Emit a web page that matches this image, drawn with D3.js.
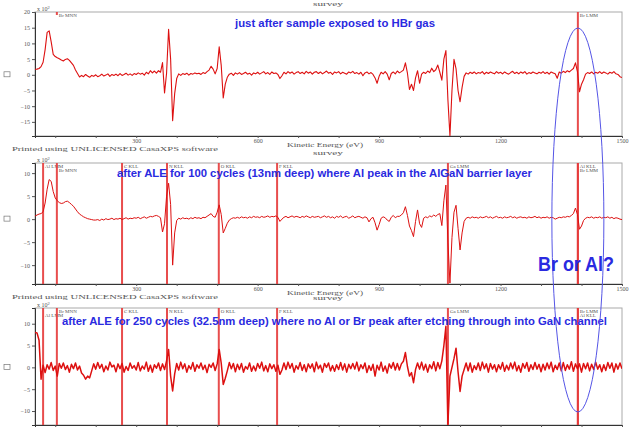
<!DOCTYPE html>
<html>
<head>
<meta charset="utf-8">
<script src="https://cdn.jsdelivr.net/npm/d3@7"></script>
<style>
  body { margin: 0; background: #fff; }
  svg { display: block; }
</style>
</head>
<body>
<div id="chart"></div>
<script>
const energyStart = 50;
const energyStep = 5;

const spec1 = [
  1.75, 1.8, 2.0, 2.6, 4.0, 8.0, 13.5, 14.0, 10.5, 6.5,
  5.8, 5.4, 5.1, 4.7, 4.4, 4.9, 5.1, 4.6, 3.8, 3.0,
  1.5, 0.4, -0.7, -0.2, -0.6, 0.1, -0.4, -0.8, -0.2, -0.5,
  0.0, -0.6, -0.3, 0.2, -0.4, -0.1, 0.3, -0.5, 0.1, -0.2,
  0.2, -0.3, 0.4, -0.2, 0.1, 0.5, -0.1, 0.3, -0.2, 0.4,
  0.1, 0.6, 0.2, 0.5, -0.1, 0.8, 0.3, 1.3, 0.6, 1.2,
  0.5, 1.3, 0.8, 3.9, -5.8, 0.5, 14.5, 5.0, -14.6, -6.0,
  -1.2, 0.3, -0.2, 0.4, 0.1, 0.5, -0.1, 0.4, 0.2, 0.6,
  0.3, 0.5, 0.1, 0.7, 0.4, 1.0, 1.5, 2.7, 1.8, 0.3,
  2.0, 8.9, 3.0, -7.4, -3.0, -0.8, 0.2, 0.5, -0.2, 0.6,
  0.2, 0.7, 0.1, 0.4, 0.8, 0.2, 0.5, -0.1, 0.6, 0.3,
  0.8, 0.2, 0.6, 1.0, 0.3, 0.7, 0.1, 0.9, 0.4, 0.6,
  0.1, -1.2, -0.3, 0.8, 0.3, 1.0, 0.5, 0.9, 0.2, 0.7,
  1.0, 0.4, 0.8, 0.3, 1.1, 0.5, 0.9, 0.2, 0.8, 1.0,
  0.4, 0.9, 0.3, 0.7, 1.2, 0.5, 0.8, 0.1, 0.9, 0.6,
  1.0, 0.3, 0.8, 0.5, 0.2, 0.9, 0.6, 1.1, 0.4, 0.7,
  0.2, 0.8, -0.3, 0.6, 0.9, 0.3, 0.7, 0.1, -1.0, -2.7,
  -0.5, 0.8, 0.3, 1.0, 0.2, -1.6, 0.4, 0.9, 0.3, 1.2,
  0.6, 1.0, 1.5, 3.8, 0.5, -4.7, -3.0, -5.0, -1.0, 1.3,
  -2.7, 0.2, 0.8, 0.4, 1.2, 0.7, 2.1, 1.0, 1.6, 3.1,
  0.8, -1.7, 5.0, 7.7, -8.0, -19.5, -5.0, 4.9, 2.0, -5.0,
  -8.6, -4.0, -0.5, 0.6, 0.2, 0.8, 0.4, 0.9, 0.3, 0.7,
  0.5, 1.0, 0.2, 0.8, 0.4, 0.9, 0.6, 0.3, 1.0, 0.5,
  0.8, 0.3, 0.9, 0.5, 0.2, 0.7, 1.1, 0.4, 0.8, 0.3,
  0.9, 0.5, 1.0, 0.2, 0.7, 0.4, 0.9, 0.6, 0.3, 0.8,
  0.5, 1.0, 0.4, 0.8, 0.2, 0.9, 0.6, 0.3, -1.1, 0.9,
  0.5, 1.1, 0.7, 1.3, 0.9, 1.5, 2.0, 3.8, 1.0, -5.4,
  -3.0, -1.6, 0.2, 0.7, 0.4, 0.9, 0.3, 0.8, 0.5, 1.0,
  0.4, 0.9, 0.6, 0.2, 0.8, 0.5, 1.0, 0.3, 0.1, -0.6,
  -0.9
];

const spec2 = [
  0.65, 0.9, 1.1, 1.2, 1.6, 3.5, 6.5, 8.6, 8.2, 6.0,
  4.6, 4.0, 3.6, 3.4, 3.5, 3.8, 3.9, 3.6, 3.2, 2.8,
  2.2, 1.6, 1.1, 0.8, 0.5, 0.3, 0.1, 0.0, -0.1, -0.2,
  -0.2, -0.1, -0.3, 0.0, -0.2, 0.1, -0.1, 0.0, 0.2, -0.1,
  0.1, 0.0, 0.2, -0.1, 0.1, 0.3, 0.0, 0.2, 0.1, 0.3,
  0.2, 0.4, 0.1, 0.3, 0.5, 0.2, 0.4, 0.6, 0.5, 0.7,
  0.8, 0.6, 0.3, -2.8, -1.0, 5.0, 7.8, 3.2, -10.0, -3.0,
  -0.3, 0.2, 0.0, 0.3, 0.1, 0.2, 0.0, 0.3, 0.1, 0.4,
  0.2, 0.3, 0.1, 0.4, 0.3, 0.6, 0.9, 1.2, 0.6, 0.4,
  1.5, 3.1, 1.0, -3.0, -2.0, -0.9, -0.2, 0.1, 0.3, 0.2,
  0.4, 0.2, 0.5, 0.3, 0.4, 0.2, 0.5, 0.3, 0.6, 0.4,
  0.5, 0.3, 0.6, 0.4, 0.5, 0.7, 0.4, 0.6, 0.5, 0.7,
  0.4, -0.5, 0.0, 0.4, 0.6, 0.3, 0.5, 0.7, 0.4, 0.6,
  0.5, 0.3, 0.6, 0.4, 0.7, 0.5, 0.3, 0.6, 0.4, 0.5,
  0.6, 0.3, 0.5, 0.7, 0.4, 0.6, 0.3, 0.5, 0.2, 0.6,
  0.4, 0.7, 0.3, 0.5, 0.6, 0.2, 0.4, 0.7, 0.3, 0.5,
  0.6, 0.4, 0.2, 0.5, 0.3, -0.6, 0.1, 0.4, -0.8, -2.4,
  -1.2, 0.2, 0.5, 0.3, -0.2, -0.5, 0.4, 0.8, 0.3, 0.6,
  0.6, 0.9, 1.4, 2.7, 0.8, -1.5, -2.5, -3.8, -0.5, 2.0,
  -1.0, -1.8, 0.2, 0.5, 0.3, 0.7, 0.5, 0.9, 0.6, 1.0,
  1.2, -1.4, 4.0, 7.4, -5.0, -13.9, -4.0, 1.5, 3.0, -2.0,
  -6.7, -3.0, -0.5, 0.2, 0.4, 0.2, 0.5, 0.3, 0.4, 0.2,
  0.5, 0.3, 0.4, 0.6, 0.3, 0.5, 0.2, 0.4, 0.6, 0.3,
  0.4, 0.2, 0.5, 0.3, 0.4, 0.6, 0.3, 0.5, 0.2, 0.4,
  0.5, 0.3, 0.4, 0.2, 0.5, 0.3, 0.4, 0.6, 0.3, 0.5,
  0.2, 0.4, 0.3, 0.5, 0.2, 0.4, 0.3, 0.0, 0.2, 0.4,
  0.3, 0.5, 0.4, 0.6, 0.5, 0.8, 1.2, 2.4, 1.0, -2.2,
  -1.5, -0.3, 0.2, 0.4, 0.3, 0.5, 0.2, 0.4, 0.3, 0.5,
  0.2, 0.4, 0.3, 0.5, 0.2, 0.4, 0.1, 0.3, 0.2, 0.0,
  -0.1
];

const spec3 = [
  8.0, 7.9, 6.2, -2.7, 0.5, -1.2, 0.6, -0.4, 1.1, -0.7,
  0.3, -2.0, 0.9, -0.2, 1.0, -0.5, 0.4, -1.1, 0.7, -0.3,
  1.0, -0.6, 0.3, -1.3, -1.8, -2.7, -2.0, -2.4, -0.8, 0.8,
  -0.4, 1.1, -0.2, 0.7, -1.0, 0.3, -0.6, 1.2, 0.1, 0.5,
  -1.0, 0.8, -0.3, 0.9, -1.1, 0.2, -0.7, 1.0, -0.2, 0.4,
  -0.6, 1.1, -0.8, 0.3, -0.4, 1.2, -0.9, 0.5, -1.1, 0.6,
  -0.2, 1.0, -0.7, 0.8, -0.5, 1.5, 4.1, -2.0, -5.4, -1.5,
  0.9, -0.6, 1.2, -0.3, 0.8, -1.1, 0.4, -0.4, 1.1, -0.9,
  0.6, -0.2, 1.0, -0.5, 0.5, -1.2, 0.7, 0.0, 1.0, -0.7,
  0.8, 4.1, 1.0, -3.9, -2.5, -0.8, 1.1, -0.3, 0.9, -1.0,
  0.7, -0.5, 0.9, -1.1, 0.2, -0.4, 1.0, -0.9, 0.3, -0.8,
  0.9, -0.2, 1.2, -0.8, 0.4, -1.0, 0.8, -0.3, 0.6, -0.9,
  0.5, -1.6, -0.6, 1.0, -0.5, 1.2, -0.2, 0.9, -1.1, 0.4,
  -0.4, 1.1, -0.7, 0.6, -1.0, 0.8, -0.2, 0.8, -1.0, 1.2,
  -0.3, 0.5, -1.1, 0.9, 0.0, 1.0, -0.8, 0.4, -0.9, 0.6,
  -0.5, 1.1, -0.6, 0.8, -1.1, 0.7, -0.3, 0.9, -0.4, 1.2,
  -0.8, 0.6, -0.3, 1.0, -1.2, 0.4, -0.7, 0.7, -2.0, 0.5,
  -0.6, 1.2, -0.9, 0.3, -1.3, 0.8, -0.2, 1.1, -0.6, 0.9,
  -0.6, 0.8, 1.4, 3.4, 0.2, -2.0, -1.2, -3.5, -0.5, 1.0,
  -0.4, 1.2, -0.6, 0.7, -1.1, 0.6, -0.3, 1.3, -0.8, 1.1,
  -0.3, 1.5, 5.0, 9.4, -13.0, -2.0, 0.0, 2.0, 4.4, -1.0,
  -5.5, -2.0, -0.5, 1.0, -0.8, 1.0, -1.1, 0.4, -0.5, 1.0,
  -0.7, 1.2, -0.3, 0.8, -1.1, 0.9, -0.4, 0.6, -1.0, 0.6,
  -0.4, 1.1, -0.9, 0.5, -0.6, 1.0, -0.3, 1.2, -0.8, 0.4,
  -1.1, 0.9, -0.2, 1.1, -0.9, 0.6, -0.5, 1.1, -0.4, 0.7,
  -1.0, 0.7, -0.6, 1.0, -0.3, 1.2, -1.0, 0.5, -0.5, 1.0,
  -0.8, 1.1, -0.7, 0.6, -0.4, 1.3, -0.9, 0.8, -0.3, 0.8,
  -1.1, 0.9, -0.3, 1.0, -0.8, 0.7, -0.5, 1.2, -0.4, 0.6,
  -1.0, 0.6, -0.7, 1.1, -0.2, 1.0, -1.1, 0.8, -0.4, 1.0,
  -0.3
];

const xMajorTicks = [300, 600, 900, 1200, 1500];
const xMinorTicks = [100, 200, 300, 400, 500, 600, 700, 800, 900, 1000, 1100, 1200, 1300, 1400, 1500];
const yTicks1 = [-15, -10, -5, 0, 5, 10, 15, 20];
const yTicks23 = [-10, -5, 0, 5, 10];

// peak markers: [label, energy, row, full line]
const markers1 = [["Br MNN", 104, 0, false], ["Br LMM", 1391, 0, true]];
const markers2 = [["Al LMM", 70, 0, true], ["Br MNN", 104, 1, true], ["C KLL", 265, 0, true],
  ["N KLL", 376, 0, true], ["O KLL", 504, 0, true], ["F KLL", 648, 0, true],
  ["Ga LMM", 1070, 0, true], ["Al KLL", 1391, 0, true], ["Br LMM", 1391, 1, true]];
const markers3 = [["Al LMM", 70, 1, true], ["Br MNN", 104, 0, true], ["C KLL", 265, 0, true],
  ["N KLL", 376, 0, true], ["O KLL", 504, 0, true], ["F KLL", 648, 0, true],
  ["Ga LMM", 1070, 0, true], ["Br LMM", 1391, 0, true], ["Al KLL", 1391, 1, true]];

const titles = [
  "just after sample exposed to HBr gas",
  "after ALE for 100 cycles (13nm deep) where Al peak in the AlGaN barrier layer",
  "after ALE for 250 cycles (32.5nm deep) where no Al or Br peak after etching through into GaN channel"
];

const width = 630, height = 429;
const svg = d3.select("#chart").append("svg")
  .attr("width", width)
  .attr("height", height);

const x = d3.scaleLinear().domain([50, 1500]).range([35, 622]);

const panels = [
  { data: spec1, top: 12, bottom: 136, ydom: [-19.5, 20], yticks: yTicks1, markers: markers1, sw: 1.1,
    title: titles[0], tx: 235, ty: 27, tw: 200, showX: true },
  { data: spec2, top: 163, bottom: 284, ydom: [-14.1, 12.2], yticks: yTicks23, markers: markers2, sw: 1,
    title: titles[1], tx: 117, ty: 177, tw: 415, showX: true },
  { data: spec3, top: 308, bottom: 425, ydom: [-13.2, 13.6], yticks: yTicks23, markers: markers3, sw: 1.5,
    title: titles[2], tx: 62, ty: 325, tw: 545, showX: false }
];

const serif = "'Liberation Serif', 'DejaVu Serif', serif";
const redLine = "#dd1010";

panels.forEach((p, k) => {
  const y = d3.scaleLinear().domain(p.ydom).range([p.bottom, p.top]);
  const g = svg.append("g");

  // frame
  g.append("rect")
    .attr("x", x.range()[0]).attr("y", p.top)
    .attr("width", x.range()[1] - x.range()[0]).attr("height", p.bottom - p.top)
    .attr("fill", "none").attr("stroke", "#aaa").attr("stroke-width", 1);

  const clipId = "clip" + k;
  svg.append("clipPath").attr("id", clipId).append("rect")
    .attr("x", x.range()[0]).attr("y", p.top)
    .attr("width", x.range()[1] - x.range()[0]).attr("height", p.bottom - p.top);

  // y axis
  const ya = g.append("g")
    .attr("transform", `translate(${x.range()[0]},0)`)
    .call(d3.axisLeft(y).tickValues(p.yticks).tickSize(3).tickPadding(2).tickFormat(d3.format("d")));
  ya.select(".domain").attr("stroke", "#333");
  ya.selectAll("line").attr("stroke", "#555");
  ya.selectAll("text").attr("font-family", serif).attr("font-size", 6).attr("fill", "#555");

  // x axis
  const xa = g.append("g")
    .attr("transform", `translate(0,${p.bottom})`)
    .call(d3.axisBottom(x).tickValues(xMinorTicks).tickSize(2).tickPadding(1)
      .tickFormat(d => (p.showX && xMajorTicks.includes(d)) ? d : ""));
  xa.select(".domain").attr("stroke", "#333");
  xa.selectAll("line").attr("stroke", "#555");
  xa.selectAll("text").attr("font-family", serif).attr("font-size", 6).attr("fill", "#555");

  // x10^2 label
  const mult = g.append("text")
    .attr("x", 37).attr("y", p.top - 1)
    .attr("font-family", serif).attr("font-size", 6).attr("fill", "#555")
    .text("x 10");
  mult.append("tspan").attr("dy", -2).attr("font-size", 4.5).text("2");

  // y unit box
  g.append("rect")
    .attr("x", 4).attr("y", y(0) - 3)
    .attr("width", 6).attr("height", 5)
    .attr("fill", "none").attr("stroke", "#777").attr("stroke-width", 0.7);

  // peak markers
  p.markers.forEach(m => {
    const mx = x(m[1]);
    g.append("line")
      .attr("x1", mx).attr("x2", mx)
      .attr("y1", p.top).attr("y2", m[3] ? p.bottom : p.top + 3)
      .attr("stroke", "#e63a3a").attr("stroke-width", 2).attr("opacity", 0.9);
    g.append("text")
      .attr("x", mx + 2).attr("y", p.top + 4.5 + m[2] * 4.5)
      .attr("font-family", serif).attr("font-size", 5).attr("fill", "#555")
      .text(m[0]);
  });

  // spectrum
  const line = d3.line()
    .x((d, i) => x(energyStart + i * energyStep))
    .y(d => y(d));
  g.append("path")
    .datum(p.data)
    .attr("clip-path", `url(#${clipId})`)
    .attr("fill", "none")
    .attr("stroke", redLine)
    .attr("stroke-width", p.sw)
    .attr("stroke-linejoin", "round")
    .attr("d", line);

  // title
  g.append("text")
    .attr("x", p.tx).attr("y", p.ty)
    .attr("font-family", "'Liberation Sans', Arial, sans-serif")
    .attr("font-weight", "bold").attr("font-size", 11)
    .attr("fill", "#2a2ae0")
    .attr("textLength", p.tw).attr("lengthAdjust", "spacingAndGlyphs")
    .text(p.title);

  // survey label above the frame
  svg.append("text")
    .attr("x", 313).attr("y", k === 0 ? 6 : p.top - 8)
    .attr("font-family", serif).attr("font-size", 6).attr("fill", "#555")
    .attr("textLength", 30).attr("lengthAdjust", "spacingAndGlyphs")
    .text("survey");

  // footer under the first two panels
  if (p.showX) {
    svg.append("text")
      .attr("x", 287).attr("y", p.bottom + 11)
      .attr("font-family", serif).attr("font-size", 6.5).attr("fill", "#555")
      .attr("textLength", 76).attr("lengthAdjust", "spacingAndGlyphs")
      .text("Kinetic Energy (eV)");
    svg.append("text")
      .attr("x", 12).attr("y", p.bottom + 15)
      .attr("font-family", serif).attr("font-size", 6.5).attr("fill", "#555")
      .attr("textLength", 206).attr("lengthAdjust", "spacingAndGlyphs")
      .text("Printed using UNLICENSED CasaXPS software");
  }
});

// highlight ellipse and question
svg.append("ellipse")
  .attr("cx", x(1391)).attr("cy", 220)
  .attr("rx", 26).attr("ry", 192)
  .attr("fill", "none").attr("stroke", "#5555e6").attr("stroke-width", 1);

svg.append("text")
  .attr("x", 538).attr("y", 271)
  .attr("font-family", "'Liberation Sans', Arial, sans-serif")
  .attr("font-weight", "bold").attr("font-size", 20)
  .attr("fill", "#2a2ae0")
  .attr("textLength", 76).attr("lengthAdjust", "spacingAndGlyphs")
  .text("Br or Al?");
</script>
</body>
</html>
